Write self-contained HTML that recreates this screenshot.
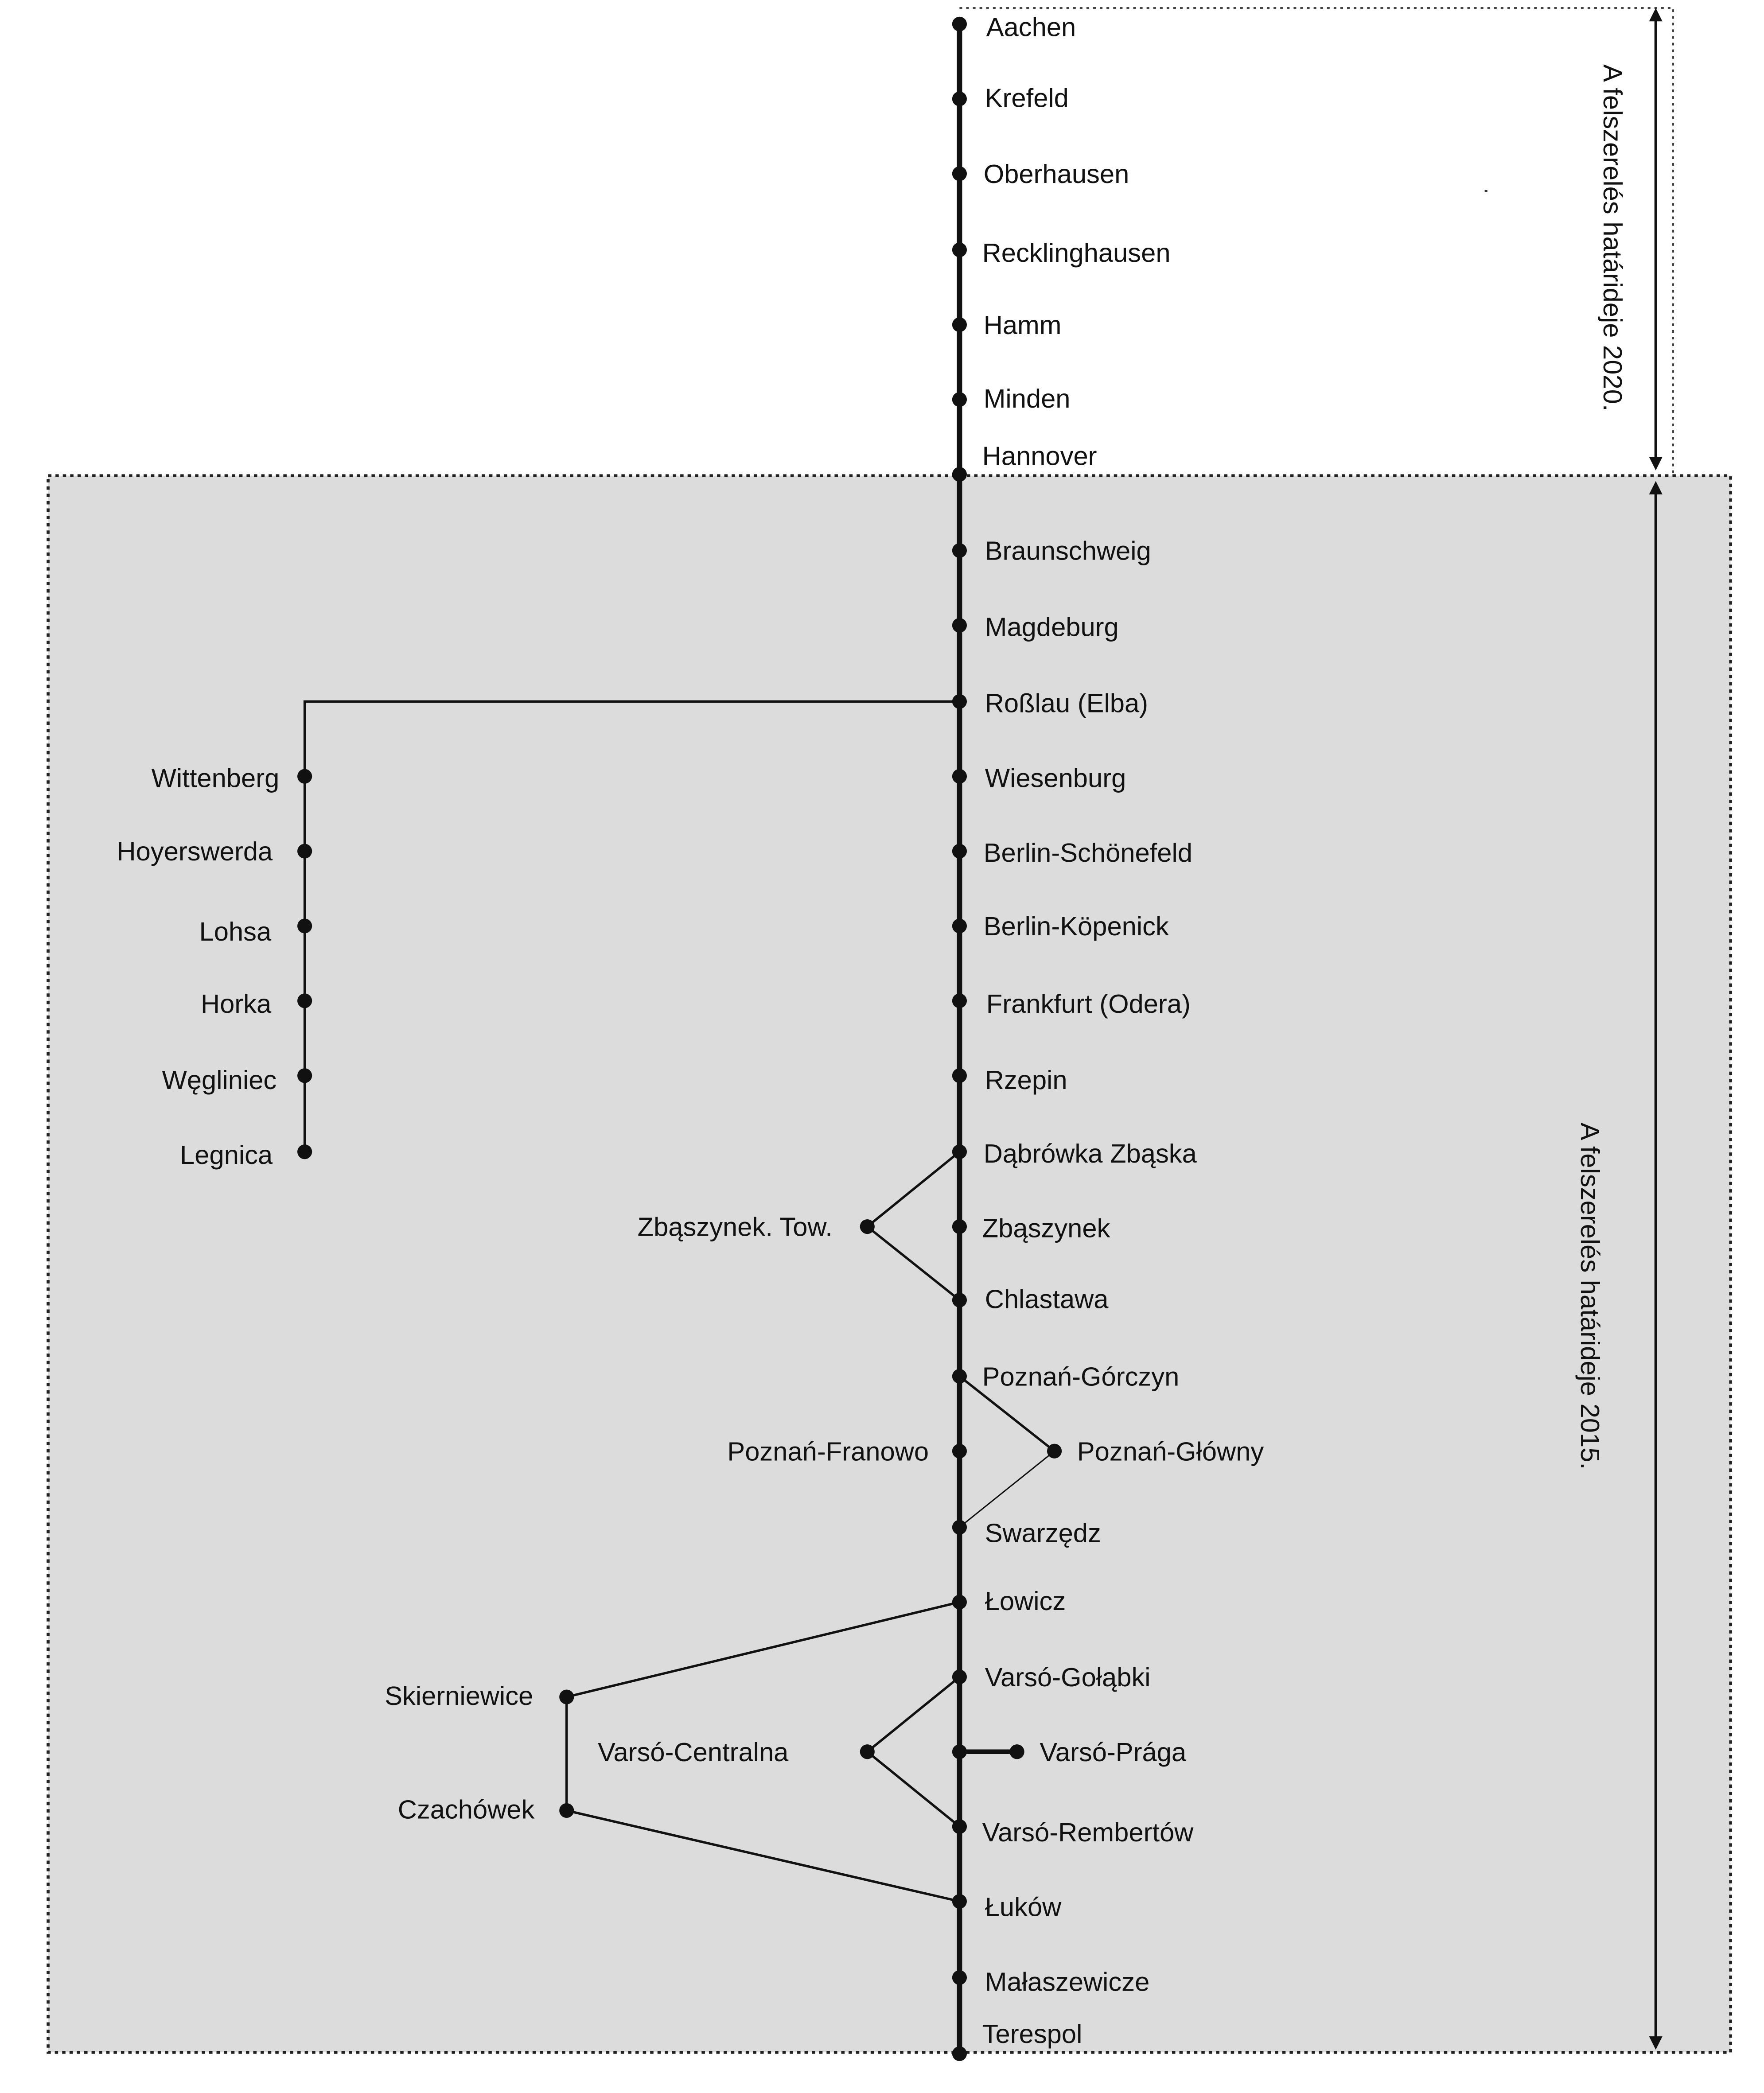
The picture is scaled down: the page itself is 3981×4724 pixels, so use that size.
<!DOCTYPE html>
<html><head><meta charset="utf-8"><style>html,body{margin:0;padding:0;background:#fff}svg{display:block}</style></head>
<body>
<svg xmlns="http://www.w3.org/2000/svg" width="3981" height="4724" viewBox="0 0 1320 1566.4" preserveAspectRatio="none" font-family="Liberation Sans, DejaVu Sans, sans-serif" font-size="19.8" fill="#111">
<rect x="36" y="356" width="1259" height="1180" fill="#dcdcdc" stroke="#222" stroke-width="2.2" stroke-dasharray="2.5,3"/>
<path d="M718 6 H1252 V356" fill="none" stroke="#444" stroke-width="1.4" stroke-dasharray="2,3"/>
<line x1="1111" y1="143" x2="1113" y2="143" stroke="#333" stroke-width="1.5"/>
<g stroke="#111" stroke-width="2">
<line x1="1239" y1="10" x2="1239" y2="350"/>
<line x1="1239" y1="364" x2="1239" y2="1530"/>
</g>
<g fill="#111">
<path d="M1239 6 l-5 10 h10z"/><path d="M1239 352 l-5 -10 h10z"/>
<path d="M1239 360 l-5 10 h10z"/><path d="M1239 1534 l-5 -10 h10z"/>
</g>
<text transform="translate(1200,178) rotate(90)" text-anchor="middle">A felszerelés határideje 2020.</text>
<text transform="translate(1183,970) rotate(90)" text-anchor="middle">A felszerelés határideje 2015.</text>
<line x1="718" y1="18" x2="718" y2="1537" stroke="#111" stroke-width="4"/>
<g stroke="#111" stroke-width="1.8" fill="none">
<path d="M718 525 H228 V862"/>
<path d="M718 862 L649 918 L718 973"/>
<path d="M718 1030 L789 1086"/>
<path d="M789 1086 L718 1143" stroke-width="1"/>
<path d="M718 1199 L424 1270 V1355 L718 1423"/>
<path d="M718 1255 L649 1311 L718 1367"/>
<path d="M718 1311 H761" stroke-width="3.5"/>
</g>
<g fill="#111">
<circle cx="718" cy="18" r="5.5"/><circle cx="718" cy="74" r="5.5"/><circle cx="718" cy="130" r="5.5"/><circle cx="718" cy="187" r="5.5"/><circle cx="718" cy="243" r="5.5"/><circle cx="718" cy="299" r="5.5"/><circle cx="718" cy="355" r="5.5"/><circle cx="718" cy="412" r="5.5"/><circle cx="718" cy="468" r="5.5"/><circle cx="718" cy="525" r="5.5"/><circle cx="718" cy="581" r="5.5"/><circle cx="718" cy="637" r="5.5"/><circle cx="718" cy="693" r="5.5"/><circle cx="718" cy="749" r="5.5"/><circle cx="718" cy="805" r="5.5"/><circle cx="718" cy="862" r="5.5"/><circle cx="718" cy="918" r="5.5"/><circle cx="718" cy="973" r="5.5"/><circle cx="718" cy="1030" r="5.5"/><circle cx="718" cy="1086" r="5.5"/><circle cx="718" cy="1143" r="5.5"/><circle cx="718" cy="1199" r="5.5"/><circle cx="718" cy="1255" r="5.5"/><circle cx="718" cy="1311" r="5.5"/><circle cx="718" cy="1367" r="5.5"/><circle cx="718" cy="1423" r="5.5"/><circle cx="718" cy="1480" r="5.5"/><circle cx="718" cy="1537" r="5.5"/>
<circle cx="228" cy="581" r="5.5"/><circle cx="228" cy="637" r="5.5"/><circle cx="228" cy="693" r="5.5"/><circle cx="228" cy="749" r="5.5"/><circle cx="228" cy="805" r="5.5"/><circle cx="228" cy="862" r="5.5"/>
<circle cx="649" cy="918" r="5.5"/><circle cx="789" cy="1086" r="5.5"/><circle cx="424" cy="1270" r="5.5"/><circle cx="424" cy="1355" r="5.5"/><circle cx="649" cy="1311" r="5.5"/><circle cx="761" cy="1311" r="5.5"/>
</g>
<g>
<text x="738" y="27">Aachen</text><text x="737" y="80">Krefeld</text><text x="736" y="137">Oberhausen</text><text x="735" y="196">Recklinghausen</text><text x="736" y="250">Hamm</text><text x="736" y="305">Minden</text><text x="735" y="348">Hannover</text>
<text x="737" y="419">Braunschweig</text><text x="737" y="476">Magdeburg</text><text x="737" y="533">Roßlau (Elba)</text><text x="737" y="589">Wiesenburg</text><text x="736" y="645">Berlin-Schönefeld</text><text x="736" y="700">Berlin-Köpenick</text><text x="738" y="758">Frankfurt (Odera)</text><text x="737" y="815">Rzepin</text><text x="736" y="870">Dąbrówka Zbąska</text><text x="735" y="926">Zbąszynek</text><text x="737" y="979">Chlastawa</text><text x="735" y="1037">Poznań-Górczyn</text><text x="737" y="1154">Swarzędz</text><text x="737" y="1205">Łowicz</text><text x="737" y="1262">Varsó-Gołąbki</text><text x="735" y="1378">Varsó-Rembertów</text><text x="737" y="1434">Łuków</text><text x="737" y="1490">Małaszewicze</text><text x="735" y="1529">Terespol</text>
<text x="806" y="1093">Poznań-Główny</text><text x="778" y="1318">Varsó-Prága</text>
<g text-anchor="end">
<text x="209" y="589">Wittenberg</text><text x="204" y="644">Hoyerswerda</text><text x="203" y="704">Lohsa</text><text x="203" y="758">Horka</text><text x="207" y="815">Węgliniec</text><text x="204" y="871">Legnica</text>
<text x="623" y="925">Zbąszynek. Tow.</text><text x="695" y="1093">Poznań-Franowo</text><text x="399" y="1276">Skierniewice</text><text x="400" y="1361">Czachówek</text><text x="590" y="1318">Varsó-Centralna</text>
</g>
</g>
</svg>
</body></html>
